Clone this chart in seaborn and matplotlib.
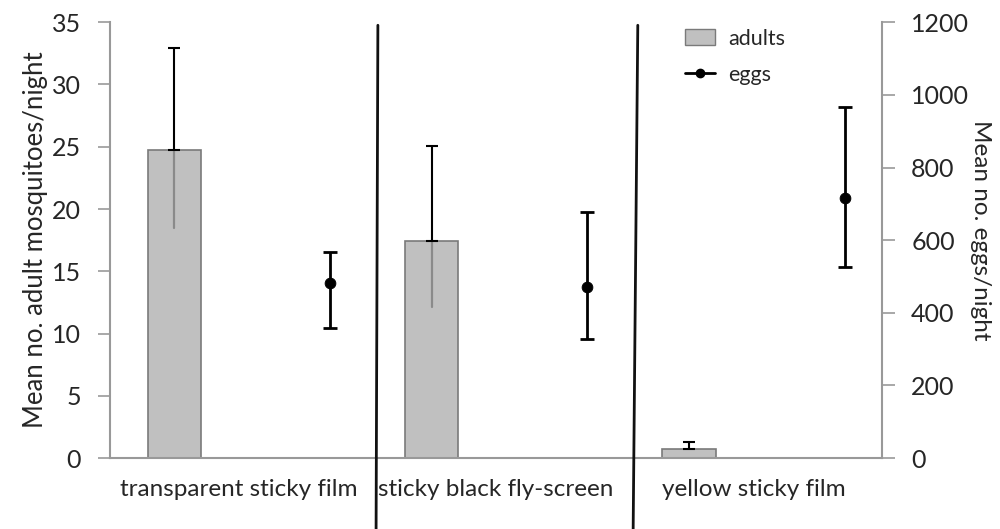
import numpy as np
import pandas as pd
import matplotlib
matplotlib.use("Agg")
import matplotlib.pyplot as plt
import seaborn as sns
from matplotlib.patches import Patch
from matplotlib.lines import Line2D

# values
traps = ["transparent sticky film", "sticky black fly-screen", "yellow sticky film"]
adults = [24.7, 17.4, 0.7]
adults_hi = [32.9, 25.1, 1.3]
adults_lo = [18.5, 12.1, 0.7]
eggs = [482, 471, 715]
eggs_hi = [567, 678, 967]
eggs_lo = [359, 329, 526]

sns.set_style("white")
plt.rcParams["font.family"] = ["Lato", "DejaVu Sans"]

pos = np.arange(len(traps))
df = pd.DataFrame({"x": pos - 0.25, "adults": adults})

fig = plt.figure(figsize=(10, 5.29), dpi=100)
ax = fig.add_axes([0.11, 0.134, 0.772, 0.824])

sns.barplot(data=df, x="x", y="adults", native_scale=True, width=0.206,
            color="#c0c0c0", edgecolor="#7a7a7a", linewidth=1.2,
            saturation=1, ax=ax, zorder=2)

# error bars: gray inside the bar, black above
for xi, m, hi, lo in zip(df["x"], adults, adults_hi, adults_lo):
    ax.plot([xi, xi], [lo, m], color="#8a8a8a", lw=1.6, zorder=3)
    ax.errorbar([xi], [m], yerr=[[0], [hi - m]], fmt="none", ecolor="black",
                elinewidth=1.5, capsize=4, capthick=1.5, zorder=3)

ax.set_xlim(-0.5, 2.5)
ax.set_ylim(0, 35)
ax.set_yticks(range(0, 36, 5))
ax.set_xticks(pos)
ax.set_xticklabels(traps, fontsize=17.5)
ax.set_xlabel("")
ax.set_ylabel("Mean no. adult mosquitoes/night", fontsize=18.5, labelpad=3)
ax.tick_params(axis="y", labelsize=18, direction="out", length=9,
               color="#999999", width=1.2, left=True, pad=12)
ax.tick_params(axis="x", length=0, pad=15)
for s in ["top", "right"]:
    ax.spines[s].set_visible(False)
for s in ["left", "bottom"]:
    ax.spines[s].set_color("#999999")
    ax.spines[s].set_linewidth(1.5)

ax2 = ax.twinx()
edf = pd.DataFrame({"x": pos + 0.355, "eggs": eggs})
for xi, m, hi, lo in zip(edf["x"], eggs, eggs_hi, eggs_lo):
    ax2.errorbar([xi], [m], yerr=[[m - lo], [hi - m]], fmt="none", ecolor="black",
                 elinewidth=2, capsize=5, capthick=2, zorder=3)
sns.scatterplot(data=edf, x="x", y="eggs", color="black", s=60,
                edgecolor="black", ax=ax2, zorder=4)
ax2.set_ylim(0, 1200)
ax2.set_yticks(range(0, 1201, 200))
ax2.set_xlim(-0.5, 2.5)
ax2.set_ylabel("")
ax2.tick_params(axis="y", labelsize=18, direction="out", length=9,
                color="#999999", width=1.2, right=True, pad=12)
for s in ["top", "left", "bottom"]:
    ax2.spines[s].set_visible(False)
ax2.spines["right"].set_color("#999999")
ax2.spines["right"].set_linewidth(1.5)
fig.text(0.981, 0.565, "Mean no. eggs/night", rotation=-90, fontsize=17.5,
         ha="center", va="center")

# dividers between trap types, running past the axis
for x_top, x_bot in [(0.541, 0.534), (1.551, 1.533)]:
    ax.plot([x_top, x_bot], [0.993, -0.163], color="#111111", lw=2,
            transform=ax.get_xaxis_transform(), clip_on=False, zorder=5)

handles = [Patch(facecolor="#c0c0c0", edgecolor="#7a7a7a", label="adults"),
           Line2D([0], [0], color="black", marker="o", markersize=6, lw=2, label="eggs")]
ax2.legend(handles=handles, loc="upper left", bbox_to_anchor=(0.72, 1.03),
           frameon=False, fontsize=15.5, handlelength=1.4, labelspacing=0.75,
           handletextpad=0.6)

fig.savefig("out.png", dpi=100)
